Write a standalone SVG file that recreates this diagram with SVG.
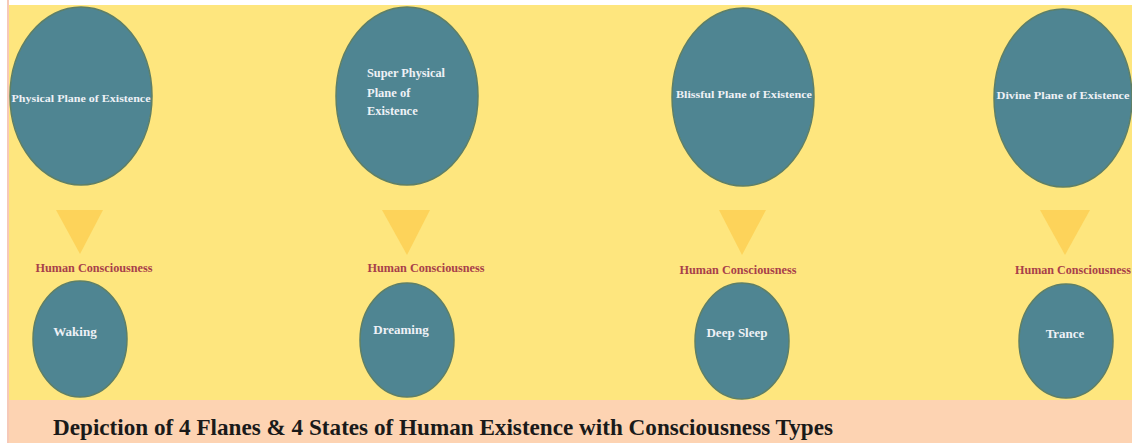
<svg xmlns="http://www.w3.org/2000/svg" width="1132" height="443" viewBox="0 0 1132 443">
<style>
.bg{fill:#FEE67E}
.band{fill:#FDD3B2}
.plane{fill:#4F8592;stroke:#5E7F66;stroke-width:1.5}
.state{fill:#4F8592;stroke:#5E7F66;stroke-width:1.5}
.ptxt{font-family:"Liberation Serif",serif;font-weight:bold;font-size:11px;fill:#EEF1F6}
.sp{font-size:12.5px}
.stxt{font-family:"Liberation Serif",serif;font-weight:bold;font-size:13px;fill:#EEF1F6}
.hc{font-family:"Liberation Serif",serif;font-weight:bold;font-size:11.5px;fill:#A8404A}
.tri{fill:#FDD35A}
.title{font-family:"Liberation Serif",serif;font-weight:bold;font-size:23px;fill:#1A1A1A}
</style>
<rect x="0" y="0" width="1132" height="443" fill="#FFFFFF"/>
<rect x="7" y="0" width="2" height="443" fill="#F6C9B8"/>
<rect class="bg" x="9" y="5" width="1123" height="396"/>
<rect class="band" x="9" y="400" width="1123" height="43"/>

<g id="connectors">
<polygon class="tri" points="56,210 103,210 80,254"/>
<polygon class="tri" points="382,210 430,210 407,255"/>
<polygon class="tri" points="719,210 766,210 742,255"/>
<polygon class="tri" points="1040,210 1090,210 1065,255"/>
</g>

<g id="plane-physical">
<ellipse class="plane" cx="81" cy="96" rx="71" ry="89"/>
<text class="ptxt" x="81" y="102" text-anchor="middle" textLength="139" lengthAdjust="spacingAndGlyphs">Physical Plane of Existence</text>
</g>
<g id="plane-superphysical">
<ellipse class="plane" cx="407" cy="96" rx="71" ry="89"/>
<text class="ptxt sp" x="367" y="77" textLength="78" lengthAdjust="spacingAndGlyphs">Super Physical</text>
<text class="ptxt sp" x="367" y="97">Plane of</text>
<text class="ptxt sp" x="367" y="115">Existence</text>
</g>
<g id="plane-blissful">
<ellipse class="plane" cx="743" cy="97" rx="71" ry="89"/>
<text class="ptxt" x="744" y="98" text-anchor="middle" textLength="136" lengthAdjust="spacingAndGlyphs">Blissful Plane of Existence</text>
</g>
<g id="plane-divine">
<ellipse class="plane" cx="1063" cy="98" rx="69" ry="89"/>
<text class="ptxt" x="1063" y="99" text-anchor="middle" textLength="133" lengthAdjust="spacingAndGlyphs">Divine Plane of Existence</text>
</g>

<g id="hc-1"><text class="hc" x="94" y="272" text-anchor="middle" textLength="117" lengthAdjust="spacingAndGlyphs">Human Consciousness</text></g>
<g id="hc-2"><text class="hc" x="426" y="272" text-anchor="middle" textLength="117" lengthAdjust="spacingAndGlyphs">Human Consciousness</text></g>
<g id="hc-3"><text class="hc" x="738" y="274" text-anchor="middle" textLength="117" lengthAdjust="spacingAndGlyphs">Human Consciousness</text></g>
<g id="hc-4"><text class="hc" x="1073" y="274" text-anchor="middle" textLength="116" lengthAdjust="spacingAndGlyphs">Human Consciousness</text></g>

<g id="state-waking">
<ellipse class="state" cx="80" cy="339" rx="47" ry="58"/>
<text class="stxt" x="75" y="336" text-anchor="middle">Waking</text>
</g>
<g id="state-dreaming">
<ellipse class="state" cx="407" cy="340" rx="47" ry="57"/>
<text class="stxt" x="401" y="334" text-anchor="middle">Dreaming</text>
</g>
<g id="state-deepsleep">
<ellipse class="state" cx="742" cy="341" rx="47" ry="58"/>
<text class="stxt" x="737" y="337" text-anchor="middle">Deep Sleep</text>
</g>
<g id="state-trance">
<ellipse class="state" cx="1066" cy="341" rx="47" ry="57"/>
<text class="stxt" x="1065" y="338" text-anchor="middle">Trance</text>
</g>

<text class="title" x="53" y="435" textLength="780" lengthAdjust="spacingAndGlyphs">Depiction of 4 Flanes &amp; 4 States of Human Existence with Consciousness Types</text>
</svg>
